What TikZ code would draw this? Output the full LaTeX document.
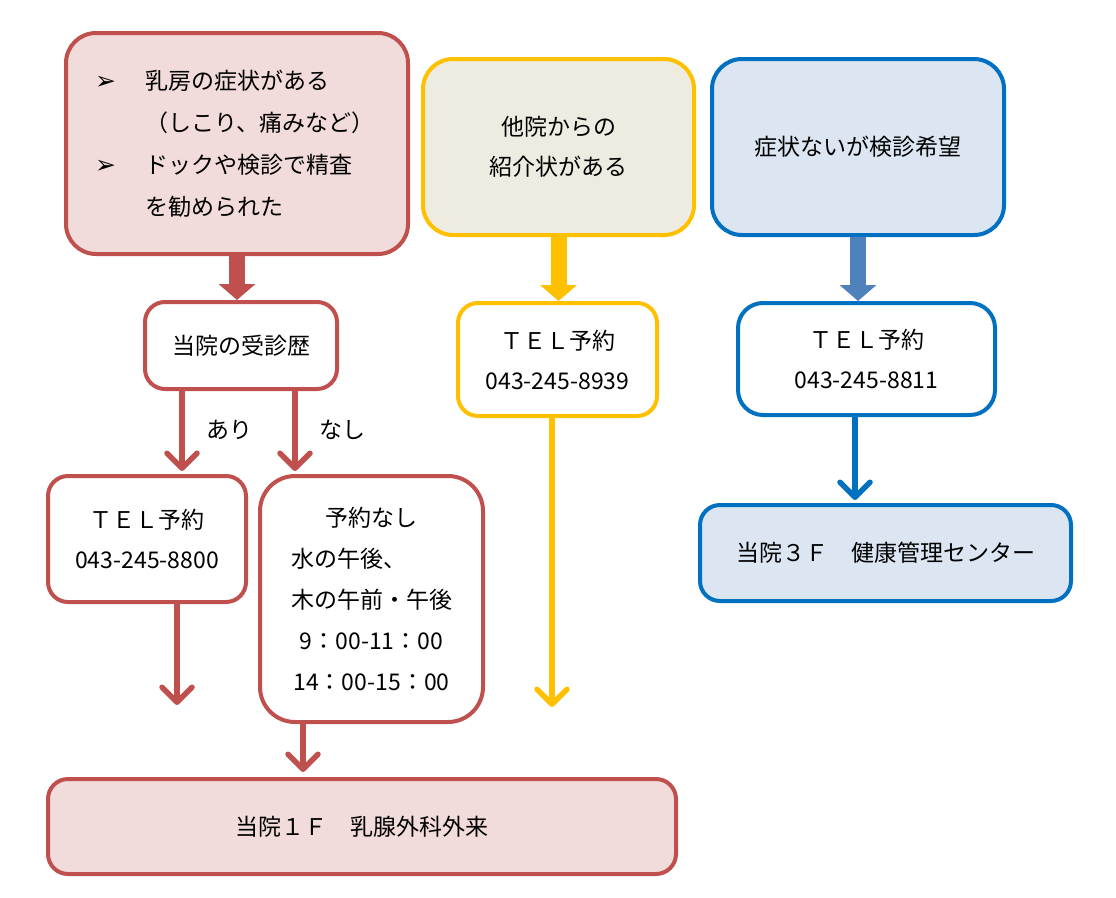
\documentclass[tikz,border=0pt]{standalone}
\usepackage{fontspec}
\setmainfont{Noto Sans CJK JP}
\newfontfamily\symfont{DejaVu Sans}
\usetikzlibrary{arrows.meta}
\definecolor{redline}{HTML}{C0504D}
\definecolor{pinkfill}{HTML}{F2DCDB}
\definecolor{yellowline}{HTML}{FFC000}
\definecolor{beigefill}{HTML}{EEECE1}
\definecolor{blueline}{HTML}{0070C0}
\definecolor{bluefill}{HTML}{DCE6F2}
\definecolor{blueblock}{HTML}{4F81BD}
\newcommand{\bul}{\makebox[53pt][l]{\hspace{3pt}{\symfont\fontsize{25}{20}\selectfont ➢}}}
\tikzset{
  box/.style={draw, line width=4pt, rounded corners=20pt, fill=white, align=center,
    inner sep=0pt, font=\fontsize{23}{40}\selectfont},
  redbox/.style={box, draw=redline},
  yellowbox/.style={box, draw=yellowline},
  bluebox/.style={box, draw=blueline},
  blockarrow/.style={line width=16pt, -{Triangle[width=36pt,length=16pt]}},
  linearrow/.style={line width=5.5pt, -{Straight Barb[length=15pt,width=30pt,round]}},
  lbl/.style={inner sep=0pt, text=black, font=\fontsize{23}{28}\selectfont}
}
\begin{document}
\begin{tikzpicture}[x=1pt,y=1pt,yscale=-1,xscale=1]
    \useasboundingbox (0,0) rectangle (1116,897);
    % top row
    \node[redbox, fill=pinkfill, rounded corners=30pt, minimum width=342pt, minimum height=221pt,
      text width=290pt, align=left, font=\fontsize{23}{42}\selectfont] (symptom) at (237,143.5)
      {\bul 乳房の症状がある\\ \hspace*{53pt}（しこり、痛みなど）\\ \bul ドックや検診で精査\\ \hspace*{53pt}を勧められた};
    \node[yellowbox, fill=beigefill, rounded corners=30pt, minimum width=271pt, minimum height=176pt] (referral) at (558.5,147)
      {他院からの\\紹介状がある};
    \node[bluebox, fill=bluefill, rounded corners=30pt, minimum width=292pt, minimum height=176pt] (wish) at (858,147)
      {症状ないが検診希望};
    % second row
    \node[redbox, minimum width=192pt, minimum height=87pt] (history) at (241,345.5) {当院の受診歴};
    \node[yellowbox, minimum width=199pt, minimum height=113pt] (telB) at (557.5,359.5) {ＴＥＬ予約\\043-245-8939};
    \node[bluebox, rounded corners=25pt, minimum width=257pt, minimum height=112pt] (telC) at (866.5,359) {ＴＥＬ予約\\043-245-8811};
    % third row
    \node[redbox, minimum width=198pt, minimum height=126pt] (telA) at (147,539) {ＴＥＬ予約\\043-245-8800};
    \node[redbox, rounded corners=35pt, minimum width=223pt, minimum height=246pt, font=\fontsize{23}{41}\selectfont] (walkin) at (371.5,599)
      {予約なし\\水の午後、\phantom{午後}\\木の午前・午後\\9：00-11：00\\14：00-15：00};
    \node[bluebox, fill=bluefill, minimum width=371pt, minimum height=96pt] (center3F) at (885.5,553) {当院３Ｆ　健康管理センター};
    % bottom
    \node[redbox, fill=pinkfill, minimum width=628pt, minimum height=95pt] (clinic) at (362,826.5) {当院１Ｆ　乳腺外科外来};
    % free ends and offsets
    \coordinate (ariTop) at (182,389);
    \coordinate (nashiTop) at (295,389);
    \coordinate (endA) at (177,705);
    \coordinate (walkOut) at (303,722);
    \coordinate (endB) at (552,707);
    \coordinate (blueOut) at (855,415);
    % block arrows
    \draw[blockarrow, redline] (symptom.south) -- (symptom.south |- history.north);
    \draw[blockarrow, yellowline] (referral.south) -- (referral.south |- telB.north);
    \draw[blockarrow, blueblock] (wish.south) -- (wish.south |- telC.north);
    % line arrows
    \draw[linearrow, redline] (ariTop) -- ([yshift=-3pt]ariTop |- telA.north) node[midway, right=22pt, lbl] (ari) {あり};
    \draw[linearrow, redline] (nashiTop) -- ([yshift=-3pt]nashiTop |- walkin.north) node[midway, right=22pt, lbl] (nashi) {なし};
    \draw[linearrow, redline] (telA.south -| endA) -- (endA);
    \draw[linearrow, redline] (walkOut) -- ([yshift=-5pt]clinic.north -| walkOut);
    \draw[linearrow, yellowline] (telB.south -| endB) -- (endB);
    \draw[linearrow, blueline] (blueOut) -- ([yshift=-3pt]center3F.north -| blueOut);
\end{tikzpicture}
\end{document}
